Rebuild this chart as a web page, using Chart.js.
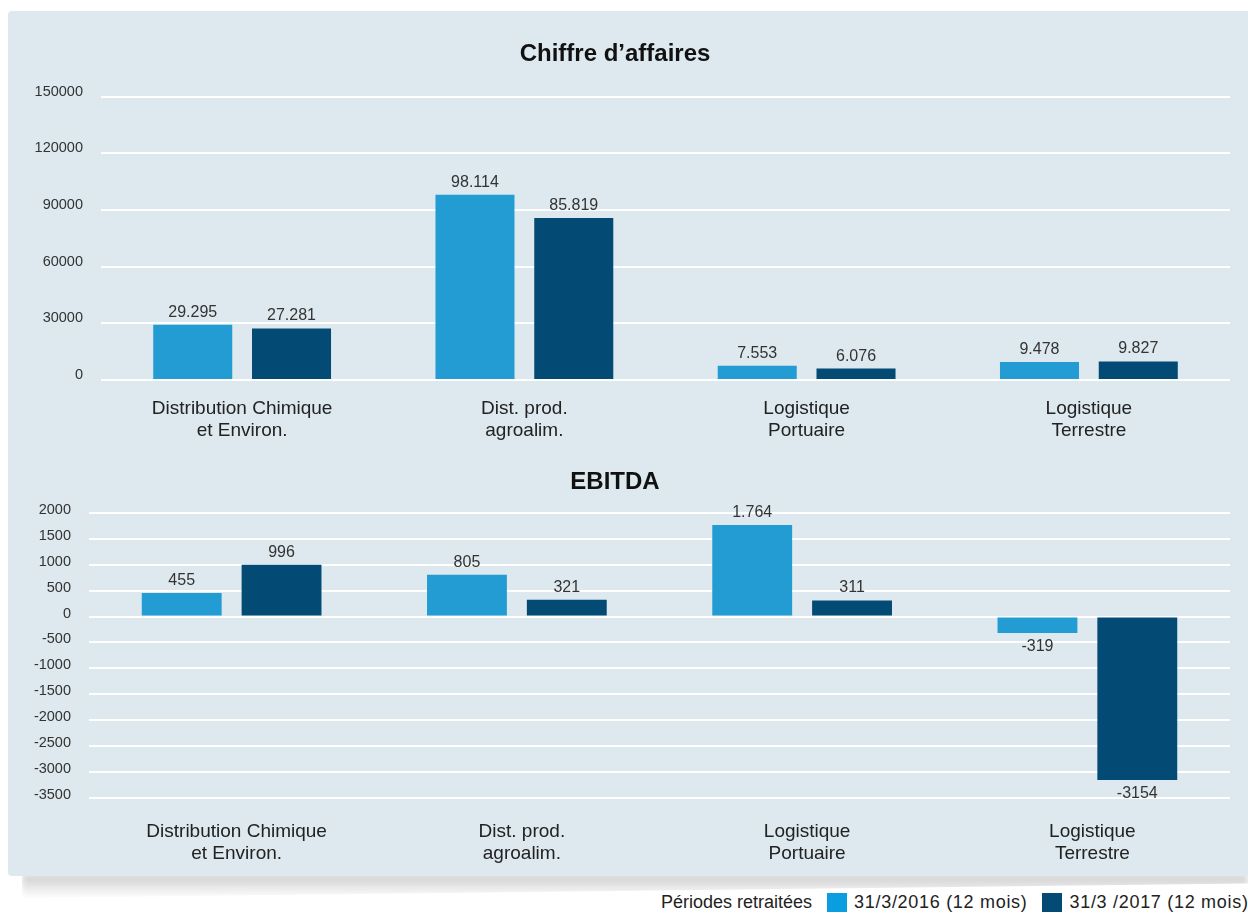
<!DOCTYPE html>
<html lang="fr">
<head>
<meta charset="utf-8">
<title>Chiffre d'affaires et EBITDA</title>
<script src="https://cdn.jsdelivr.net/npm/chart.js@4.4.1/dist/chart.umd.min.js"></script>
<style>
    html, body { margin: 0; padding: 0; background: #fff; }
    body {
        position: relative;
        width: 1248px;
        height: 915px;
        overflow: hidden;
        font-family: "Liberation Sans", Arial, sans-serif;
    }
    .panel {
        position: absolute;
        left: 8px; top: 11px;
        width: 1240px; height: 865px;
        background: #dde9ef;
        border-radius: 4px 0 0 4px;
    }
    .shadow {
        position: absolute;
        left: 22px; top: 874px;
        width: 1226px; height: 24px;
        background: linear-gradient(to bottom, rgba(0,0,0,0.2), rgba(0,0,0,0));
        clip-path: polygon(0 0, 100% 0, 100% 40%, 0 100%);
        filter: blur(3px);
    }
    .chart-box { position: absolute; left: 0; width: 1248px; }
    #ca-box { top: 0; height: 450px; }
    #ebitda-box { top: 440px; height: 428px; }
    .legend {
        position: absolute;
        left: 661px; top: 891px;
        height: 22px;
        display: flex;
        align-items: center;
        white-space: nowrap;
        font-size: 18px;
        color: #222;
    }
    .legend .swatch {
        display: inline-block;
        width: 20px; height: 19px;
        margin: 0 7px 0 15px;
    }
    .legend .period { letter-spacing: 0.7px; }
</style>
</head>
<body>
<div class="shadow"></div>
<div class="panel"></div>
<div class="chart-box" id="ca-box"><canvas id="ca-chart"></canvas></div>
<div class="chart-box" id="ebitda-box"><canvas id="ebitda-chart"></canvas></div>
<div class="legend" id="legend"></div>

<script>
// categories (two-line labels)
const categories = [
    ['Distribution Chimique', 'et Environ.'],
    ['Dist. prod.', 'agroalim.'],
    ['Logistique', 'Portuaire'],
    ['Logistique', 'Terrestre']
];
const seriesNames = ['31/3/2016 (12 mois)', '31/3 /2017 (12 mois)'];

// Chiffre d'affaires
const ca2016 = [29295, 98114, 7553, 9478];
const ca2017 = [27281, 85819, 6076, 9827];
const caTicks = { min: 0, max: 150000, step: 30000 };

// EBITDA
const ebitda2016 = [455, 805, 1764, -319];
const ebitda2017 = [996, 321, 311, -3154];
const ebitdaTicks = { min: -3500, max: 2000, step: 500 };

const barColors = ['#239cd4', '#034a74'];
const legendColors = ['#0a9de0', '#034a74'];
const fontFamily = '"Liberation Sans", Arial, sans-serif';

document.addEventListener('DOMContentLoaded', () => {
    // 29295 -> "29.295", negatives are printed as they are in the source
    const formatValue = (v) => v < 0 ? String(v) : String(v).replace(/\B(?=(\d{3})+(?!\d))/g, '.');

    const valueLabels = {
        id: 'valueLabels',
        afterDatasetsDraw(chart) {
            const { ctx } = chart;
            ctx.save();
            ctx.font = '16px ' + fontFamily;
            ctx.fillStyle = '#333';
            ctx.textAlign = 'center';
            ctx.textBaseline = 'alphabetic';
            chart.data.datasets.forEach((ds, i) => {
                chart.getDatasetMeta(i).data.forEach((bar, j) => {
                    const v = ds.data[j];
                    const y = v >= 0 ? bar.y - 8 : bar.y + 18;
                    ctx.fillText(formatValue(v), bar.x, y);
                });
            });
            ctx.restore();
        }
    };

    const makeChart = (canvasId, cfg) => {
        return new Chart(document.getElementById(canvasId), {
            type: 'bar',
            data: {
                labels: categories,
                datasets: [
                    { label: seriesNames[0], data: cfg.first, backgroundColor: barColors[0] },
                    { label: seriesNames[1], data: cfg.second, backgroundColor: barColors[1] }
                ]
            },
            options: {
                responsive: true,
                maintainAspectRatio: false,
                animation: false,
                categoryPercentage: 0.7,
                barPercentage: 0.8,
                layout: { padding: { top: cfg.padTop, right: 18, bottom: 0, left: 0 } },
                plugins: {
                    legend: { display: false },
                    tooltip: { enabled: false },
                    title: {
                        display: true,
                        text: cfg.title,
                        color: '#111',
                        font: { family: fontFamily, size: 24, weight: 'bold' },
                        padding: cfg.titlePadding
                    }
                },
                scales: {
                    x: {
                        grid: { display: false, drawTicks: false },
                        border: { display: false },
                        ticks: {
                            color: '#222',
                            padding: cfg.xPadding,
                            labelOffset: cfg.xLabelOffset,
                            maxRotation: 0,
                            autoSkip: false,
                            font: { family: fontFamily, size: 19, lineHeight: 22 / 19 }
                        },
                        afterFit: (scale) => { scale.height = 70; }
                    },
                    y: {
                        min: cfg.ticks.min,
                        max: cfg.ticks.max,
                        grid: { color: '#ffffff', lineWidth: 2, drawTicks: false },
                        border: { display: false },
                        ticks: {
                            stepSize: cfg.ticks.step,
                            color: '#333',
                            padding: 18,
                            labelOffset: cfg.labelOffset,
                            font: { family: fontFamily, size: 14.5 },
                            callback: (v) => String(v)
                        },
                        afterFit: (scale) => { scale.width = cfg.yWidth; }
                    }
                }
            },
            plugins: [valueLabels]
        });
    };

    makeChart('ca-chart', {
        title: 'Chiffre d\u2019affaires',
        first: ca2016,
        second: ca2017,
        ticks: caTicks,
        padTop: 26,
        titlePadding: { top: 14, bottom: 28 },
        xPadding: 18,
        xLabelOffset: 0,
        yWidth: 101,
        labelOffset: -5
    });

    makeChart('ebitda-chart', {
        title: 'EBITDA',
        first: ebitda2016,
        second: ebitda2017,
        ticks: ebitdaTicks,
        padTop: 0,
        titlePadding: { top: 28, bottom: 16 },
        xPadding: 23,
        xLabelOffset: 5,
        yWidth: 89,
        labelOffset: -3
    });

    // legend below the panel
    const legend = document.getElementById('legend');
    legend.innerHTML = '<span>Périodes retraitées</span>' + seriesNames.map((name, i) =>
        `<span class="swatch" style="background:${legendColors[i]}"></span><span class="period">${name}</span>`
    ).join('');
});
</script>
</body>
</html>
